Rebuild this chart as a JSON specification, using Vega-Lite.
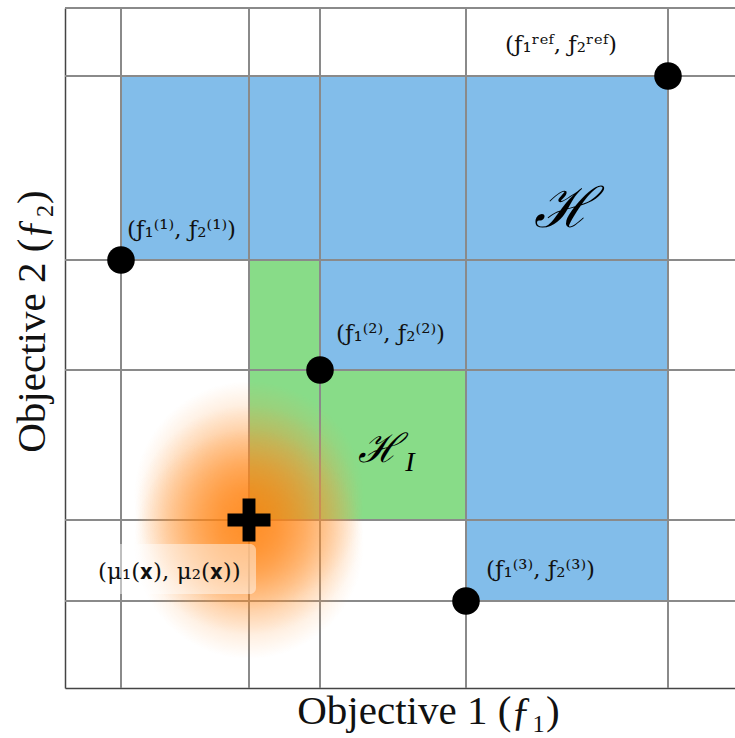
{
  "$schema": "https://vega.github.io/schema/vega-lite/v6.json",
  "width": 670,
  "height": 680,
  "autosize": {"type": "none"},
  "padding": {"left": 65, "top": 8, "right": 0, "bottom": 50},
  "background": "white",
  "view": {"stroke": null},
  "config": {
    "axis": {"ticks": false, "labels": false, "grid": false, "domainColor": "#444", "domainWidth": 1.5,
             "titleFont": "Liberation Serif", "titleFontSize": 41, "titleFontWeight": "normal", "titleColor": "#111"}
  },
  "datasets": {
    "regions": [
      {"x": 56, "x2": 603, "y": 428, "y2": 612, "region": "H"},
      {"x": 255, "x2": 603, "y": 318, "y2": 428, "region": "H"},
      {"x": 401, "x2": 603, "y": 87, "y2": 318, "region": "H"},
      {"x": 184, "x2": 255, "y": 168, "y2": 428, "region": "HI"},
      {"x": 255, "x2": 401, "y": 168, "y2": 318, "region": "HI"}
    ],
    "vgrid": [{"x": 56}, {"x": 184}, {"x": 255}, {"x": 401}, {"x": 603}],
    "hgrid": [{"y": 87}, {"y": 168}, {"y": 318}, {"y": 428}, {"y": 612}, {"y": 680}],
    "front": [
      {"x": 56, "y": 428, "name": "f1"},
      {"x": 255, "y": 318, "name": "f2"},
      {"x": 401, "y": 87, "name": "f3"},
      {"x": 603, "y": 612, "name": "ref"}
    ],
    "mean": [{"x": 184, "y": 168}],
    "labelbox": [{"x": 27, "x2": 191, "y": 94, "y2": 144}],
    "labels": [
      {"x": 440, "y": 643, "text": "(ƒ₁ʳᵉᶠ, ƒ₂ʳᵉᶠ)"},
      {"x": 62, "y": 458, "text": "(ƒ₁⁽¹⁾, ƒ₂⁽¹⁾)"},
      {"x": 271, "y": 354, "text": "(ƒ₁⁽²⁾, ƒ₂⁽²⁾)"},
      {"x": 421, "y": 118, "text": "(ƒ₁⁽³⁾, ƒ₂⁽³⁾)"},
      {"x": 33, "y": 116, "text": "(μ₁(𝐱), μ₂(𝐱))"}
    ],
    "bigH": [{"x": 498, "y": 478, "text": "ℋ"}],
    "hiH": [{"x": 314, "y": 238, "text": "ℋ"}],
    "hiSub": [{"x": 345, "y": 225, "text": "I"}]
  },
  "encoding": {
    "x": {"type": "quantitative", "scale": {"domain": [0, 670], "nice": false, "zero": false},
          "axis": {"title": "Objective 1 (ƒ₁)", "titleX": 363, "titlePadding": 3}},
    "y": {"type": "quantitative", "scale": {"domain": [0, 680], "nice": false, "zero": false},
          "axis": {"title": "Objective 2 (ƒ₂)", "titleY": 313, "titlePadding": 12}}
  },
  "layer": [
    {
      "data": {"name": "regions"},
      "mark": {"type": "rect"},
      "encoding": {
        "x": {"field": "x", "type": "quantitative"},
        "x2": {"field": "x2"},
        "y": {"field": "y", "type": "quantitative"},
        "y2": {"field": "y2"},
        "color": {"field": "region", "type": "nominal", "scale": {"domain": ["H", "HI"], "range": ["#82bdea", "#88dc88"]}, "legend": null}
      }
    },
    {
      "data": {"name": "vgrid"},
      "mark": {"type": "rule", "color": "#8a8a8a", "strokeWidth": 2},
      "encoding": {"x": {"field": "x", "type": "quantitative"}}
    },
    {
      "data": {"name": "hgrid"},
      "mark": {"type": "rule", "color": "#8a8a8a", "strokeWidth": 2},
      "encoding": {"y": {"field": "y", "type": "quantitative"}}
    },
    {
      "data": {"name": "mean"},
      "mark": {
        "type": "point", "filled": true, "shape": "circle", "size": 52900, "opacity": 1, "strokeWidth": 0, "yOffset": -24,
        "fill": {"gradient": "radial", "x1": 0.5, "y1": 0.5, "r1": 0, "x2": 0.5, "y2": 0.5, "r2": 0.5,
          "stops": [
            {"offset": 0, "color": "rgba(255,126,8,0.55)"},
            {"offset": 0.25, "color": "rgba(255,128,12,0.46)"},
            {"offset": 0.5, "color": "rgba(255,135,25,0.33)"},
            {"offset": 0.72, "color": "rgba(255,145,45,0.2)"},
            {"offset": 0.88, "color": "rgba(255,155,65,0.09)"},
            {"offset": 1, "color": "rgba(255,160,80,0)"}
          ]}
      },
      "encoding": {"x": {"field": "x", "type": "quantitative"}, "y": {"field": "y", "type": "quantitative"}}
    },
    {
      "data": {"name": "mean"},
      "mark": {
        "type": "point", "filled": true, "shape": "circle", "size": 52900, "opacity": 1, "strokeWidth": 0, "yOffset": 0,
        "fill": {"gradient": "radial", "x1": 0.5, "y1": 0.5, "r1": 0, "x2": 0.5, "y2": 0.5, "r2": 0.5,
          "stops": [
            {"offset": 0, "color": "rgba(255,126,8,0.55)"},
            {"offset": 0.25, "color": "rgba(255,128,12,0.46)"},
            {"offset": 0.5, "color": "rgba(255,135,25,0.33)"},
            {"offset": 0.72, "color": "rgba(255,145,45,0.2)"},
            {"offset": 0.88, "color": "rgba(255,155,65,0.09)"},
            {"offset": 1, "color": "rgba(255,160,80,0)"}
          ]}
      },
      "encoding": {"x": {"field": "x", "type": "quantitative"}, "y": {"field": "y", "type": "quantitative"}}
    },
    {
      "data": {"name": "mean"},
      "mark": {
        "type": "point", "filled": true, "shape": "circle", "size": 52900, "opacity": 1, "strokeWidth": 0, "yOffset": 24,
        "fill": {"gradient": "radial", "x1": 0.5, "y1": 0.5, "r1": 0, "x2": 0.5, "y2": 0.5, "r2": 0.5,
          "stops": [
            {"offset": 0, "color": "rgba(255,126,8,0.55)"},
            {"offset": 0.25, "color": "rgba(255,128,12,0.46)"},
            {"offset": 0.5, "color": "rgba(255,135,25,0.33)"},
            {"offset": 0.72, "color": "rgba(255,145,45,0.2)"},
            {"offset": 0.88, "color": "rgba(255,155,65,0.09)"},
            {"offset": 1, "color": "rgba(255,160,80,0)"}
          ]}
      },
      "encoding": {"x": {"field": "x", "type": "quantitative"}, "y": {"field": "y", "type": "quantitative"}}
    },
    {
      "data": {"name": "labelbox"},
      "mark": {"type": "rect", "fill": "white", "opacity": 0.45, "cornerRadius": 6},
      "encoding": {
        "x": {"field": "x", "type": "quantitative"},
        "x2": {"field": "x2"},
        "y": {"field": "y", "type": "quantitative"},
        "y2": {"field": "y2"}
      }
    },
    {
      "data": {"name": "front"},
      "mark": {"type": "circle", "color": "black", "size": 760, "opacity": 1},
      "encoding": {
        "x": {"field": "x", "type": "quantitative"},
        "y": {"field": "y", "type": "quantitative"}
      }
    },
    {
      "data": {"name": "mean"},
      "mark": {"type": "point", "filled": true, "color": "black", "opacity": 1,
               "shape": "M-1,-0.3H-0.3V-1H0.3V-0.3H1V0.3H0.3V1H-0.3V0.3H-1Z", "size": 1850},
      "encoding": {
        "x": {"field": "x", "type": "quantitative"},
        "y": {"field": "y", "type": "quantitative"}
      }
    },
    {
      "data": {"name": "labels"},
      "mark": {"type": "text", "font": "DejaVu Serif", "fontSize": 23, "color": "#111", "baseline": "middle", "align": "left"},
      "encoding": {
        "x": {"field": "x", "type": "quantitative"},
        "y": {"field": "y", "type": "quantitative"},
        "text": {"field": "text"}
      }
    },
    {
      "data": {"name": "bigH"},
      "mark": {"type": "text", "font": "DejaVu Serif", "fontSize": 56, "fontStyle": "italic", "color": "#000", "align": "center", "baseline": "middle"},
      "encoding": {
        "x": {"field": "x", "type": "quantitative"},
        "y": {"field": "y", "type": "quantitative"},
        "text": {"field": "text"}
      }
    },
    {
      "data": {"name": "hiH"},
      "mark": {"type": "text", "font": "DejaVu Serif", "fontSize": 40, "fontStyle": "italic", "color": "#000", "align": "center", "baseline": "middle"},
      "encoding": {
        "x": {"field": "x", "type": "quantitative"},
        "y": {"field": "y", "type": "quantitative"},
        "text": {"field": "text"}
      }
    },
    {
      "data": {"name": "hiSub"},
      "mark": {"type": "text", "font": "Liberation Serif", "fontSize": 28, "fontStyle": "italic", "color": "#000", "align": "center", "baseline": "middle"},
      "encoding": {
        "x": {"field": "x", "type": "quantitative"},
        "y": {"field": "y", "type": "quantitative"},
        "text": {"field": "text"}
      }
    }
  ]
}
